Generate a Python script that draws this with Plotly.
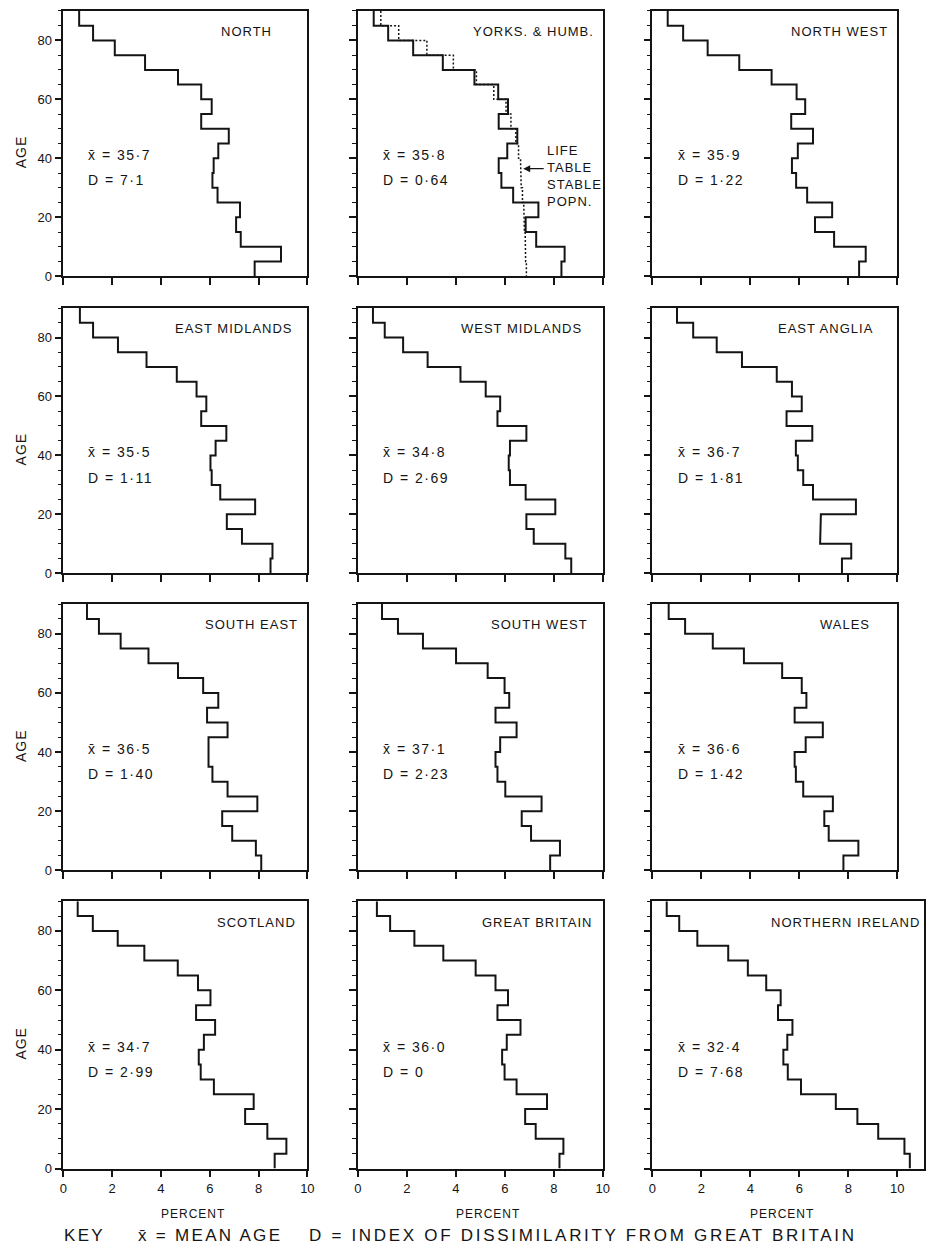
import plotly.graph_objects as go

# ---------------- data ----------------
age_starts = [0, 5, 10, 15, 20, 25, 30, 35, 40, 45, 50, 55, 60, 65, 70, 75, 80, 85]
group_width = 5

regions = ["NORTH", "YORKS. & HUMB.", "NORTH WEST",
           "EAST MIDLANDS", "WEST MIDLANDS", "EAST ANGLIA",
           "SOUTH EAST", "SOUTH WEST", "WALES",
           "SCOTLAND", "GREAT BRITAIN", "NORTHERN IRELAND"]

mean_age = ["35·7", "35·8", "35·9", "35·5", "34·8", "36·7",
            "36·5", "37·1", "36·6", "34·7", "36·0", "32·4"]
dissimilarity = ["7·1", "0·64", "1·22", "1·11", "2·69", "1·81",
                 "1·40", "2·23", "1·42", "2·99", "0", "7·68"]

# percent of population in each 5-year age group (0-4 ... 85-89)
north = [7.84, 8.92, 7.27, 7.08, 7.24, 6.32, 6.11, 6.16, 6.35, 6.78, 5.65, 6.08, 5.65, 4.70, 3.35, 2.11, 1.22, 0.65]
yorks = [8.31, 8.44, 7.28, 6.85, 7.37, 6.34, 5.86, 5.75, 6.10, 6.51, 5.75, 6.13, 5.73, 4.76, 3.47, 2.26, 1.24, 0.65]
north_west = [8.44, 8.71, 7.42, 6.64, 7.34, 6.32, 5.87, 5.70, 5.94, 6.56, 5.67, 6.24, 5.89, 4.87, 3.55, 2.26, 1.26, 0.63]
east_midlands = [8.49, 8.57, 7.32, 6.70, 7.86, 6.43, 6.08, 6.03, 6.24, 6.68, 5.65, 5.86, 5.46, 4.65, 3.41, 2.24, 1.22, 0.68]
west_midlands = [8.71, 8.47, 7.18, 6.88, 8.06, 6.85, 6.21, 6.16, 6.21, 6.88, 5.70, 5.81, 5.22, 4.19, 2.85, 1.85, 1.10, 0.62]
east_anglia = [7.74, 8.12, 6.85, 6.88, 8.31, 6.56, 6.16, 5.94, 5.86, 6.53, 5.48, 6.10, 5.70, 5.08, 3.66, 2.63, 1.67, 1.01]
south_east = [8.11, 7.89, 6.92, 6.51, 7.95, 6.73, 6.11, 5.95, 5.95, 6.73, 5.89, 6.35, 5.73, 4.70, 3.49, 2.35, 1.46, 0.97]
south_west = [7.85, 8.25, 7.07, 6.69, 7.50, 6.02, 5.70, 5.62, 5.81, 6.48, 5.62, 6.18, 5.99, 5.30, 4.01, 2.66, 1.64, 0.99]
wales = [7.80, 8.41, 7.20, 7.02, 7.37, 6.16, 5.86, 5.81, 6.26, 6.96, 5.81, 6.29, 6.10, 5.30, 3.74, 2.47, 1.34, 0.67]
scotland = [8.66, 9.14, 8.36, 7.45, 7.80, 6.17, 5.63, 5.55, 5.76, 6.22, 5.44, 6.03, 5.52, 4.69, 3.32, 2.23, 1.21, 0.59]
great_britain = [8.23, 8.39, 7.26, 6.83, 7.72, 6.48, 5.99, 5.89, 6.08, 6.64, 5.70, 6.13, 5.62, 4.81, 3.49, 2.31, 1.32, 0.78]
northern_ireland = [10.51, 10.29, 9.22, 8.37, 7.49, 6.07, 5.53, 5.35, 5.51, 5.72, 5.13, 5.24, 4.65, 3.90, 3.10, 1.84, 1.10, 0.59]

# life table stable population (Yorks. & Humb. panel)
life_table = [6.88, 6.85, 6.83, 6.80, 6.77, 6.72, 6.67, 6.64, 6.56, 6.45, 6.25, 6.05, 5.55, 4.84, 3.90, 2.82, 1.67, 0.94]

series = [north, yorks, north_west, east_midlands, west_midlands, east_anglia,
          south_east, south_west, wales, scotland, great_britain, northern_ireland]

x_ticks = [0, 2, 4, 6, 8, 10]
y_ticks = [0, 20, 40, 60, 80]

# ---------------- layout geometry (pixels) ----------------
W, H = 932, 1255
col_px = [(60, 307), (358, 606), (656, 904)]
row_px = [(11, 278), (310, 577), (608, 876), (907, 1176)]
title_x = [7.5, 7.15, 7.65, 7.0, 6.7, 7.08, 7.7, 7.4, 7.87, 7.93, 7.34, 7.9]

INK = "#141414"
FONT = "Liberation Sans"


def spaced(text, px):
    return f'<span style="letter-spacing:{px}px">{text}</span>'


def step_path(values):
    xs, ys = [], []
    for a, v in sorted(zip(age_starts, values), reverse=True):
        xs += [v, v]
        ys += [a + group_width, a]
    return xs, ys


fig = go.Figure()
annotations = []

for i, (name, vals) in enumerate(zip(regions, series)):
    r, c = divmod(i, 3)
    n = i + 1
    xa = "x" if n == 1 else f"x{n}"
    ya = "y" if n == 1 else f"y{n}"
    xkey = "xaxis" if n == 1 else f"xaxis{n}"
    ykey = "yaxis" if n == 1 else f"yaxis{n}"

    x0, x1 = col_px[c]
    xmax = 10
    if name == "NORTHERN IRELAND":
        px_per = (x1 - x0) / 10
        x1 = 931
        xmax = (x1 - x0) / px_per
    top, bot = row_px[r]

    if name == "YORKS. & HUMB.":
        lx, ly = step_path(life_table)
        fig.add_trace(go.Scatter(x=lx, y=ly, mode="lines", xaxis=xa, yaxis=ya,
                                 line=dict(color=INK, width=1.5, dash="2px,2px"),
                                 showlegend=False, hoverinfo="skip"))
    sx, sy = step_path(vals)
    fig.add_trace(go.Scatter(x=sx, y=sy, mode="lines", xaxis=xa, yaxis=ya,
                             line=dict(color=INK, width=2),
                             showlegend=False, hoverinfo="skip"))

    common = dict(showline=True, mirror=True, linecolor=INK, linewidth=1.5,
                  showgrid=False, zeroline=False, ticks="outside", ticklen=7,
                  tickwidth=1.5, tickcolor=INK,
                  tickfont=dict(family=FONT, size=13, color=INK))
    fig.layout[xkey] = dict(common, domain=[x0 / W, x1 / W], range=[0, xmax],
                            tickvals=x_ticks, showticklabels=(r == 3),
                            anchor=ya, fixedrange=True)
    fig.layout[ykey] = dict(common, domain=[1 - bot / H, 1 - top / H], range=[0, 90],
                            tickvals=y_ticks, showticklabels=(c == 0),
                            minor=dict(dtick=5, tick0=0, ticks="outside", ticklen=4,
                                       tickwidth=1.2, tickcolor=INK),
                            anchor=xa, fixedrange=True)

    # region name
    annotations.append(dict(x=title_x[i], y=83, xref=xa, yref=ya, text=spaced(name, 1),
                            showarrow=False, xanchor="center", yanchor="middle",
                            font=dict(family=FONT, size=13, color=INK)))
    # mean age and dissimilarity
    annotations.append(dict(x=0.95, y=41, xref=xa, yref=ya,
                            text=spaced("x\u0304 = " + mean_age[i], 1.5), showarrow=False,
                            xanchor="left", yanchor="middle",
                            font=dict(family=FONT, size=14, color=INK)))
    annotations.append(dict(x=0.95, y=32.5, xref=xa, yref=ya,
                            text=spaced("D = " + dissimilarity[i], 1.5), showarrow=False,
                            xanchor="left", yanchor="middle",
                            font=dict(family=FONT, size=14, color=INK)))
    if c == 0:
        annotations.append(dict(x=17 / W, y=1 - ((top + bot) / 2 + 8) / H,
                                xref="paper", yref="paper", text=spaced("AGE", 1),
                                textangle=-90, showarrow=False,
                                xanchor="center", yanchor="middle",
                                font=dict(family=FONT, size=14, color=INK)))
    if r == 3:
        annotations.append(dict(x=5.3, y=1 - 1222 / H, xref=xa, yref="paper",
                                text=spaced("PERCENT", 1), showarrow=False,
                                xanchor="center", yanchor="middle",
                                font=dict(family=FONT, size=12, color=INK)))

# Life table label and arrow (Yorks. & Humb.)
annotations.append(dict(x=7.65, y=34, xref="x2", yref="y2",
                        text=spaced("LIFE<br>TABLE<br>STABLE<br>POPN.", 1), align="left",
                        showarrow=False, xanchor="left", yanchor="middle",
                        font=dict(family=FONT, size=13, color=INK)))
annotations.append(dict(x=6.75, y=36.5, xref="x2", yref="y2", text="",
                        showarrow=True, arrowhead=2, arrowsize=1, arrowwidth=1.4,
                        arrowcolor=INK, ax=22, ay=0, axref="pixel", ayref="pixel"))

# Key (centre positions in pixels)
key_parts = [("KEY", 81, 2.3), ("x\u0304 = MEAN AGE", 208, 2.3),
             ("D = INDEX OF DISSIMILARITY FROM GREAT BRITAIN", 586, 2.7)]
for txt, px, sp in key_parts:
    annotations.append(dict(x=px / W, y=1 - 1243 / H, xref="paper", yref="paper",
                            text=spaced(txt, sp), showarrow=False,
                            xanchor="center", yanchor="middle",
                            font=dict(family=FONT, size=17, color=INK)))

fig.update_layout(width=W, height=H, margin=dict(l=0, r=0, t=0, b=0),
                  paper_bgcolor="white", plot_bgcolor="white",
                  annotations=annotations, showlegend=False)

fig.write_html("out.html")
